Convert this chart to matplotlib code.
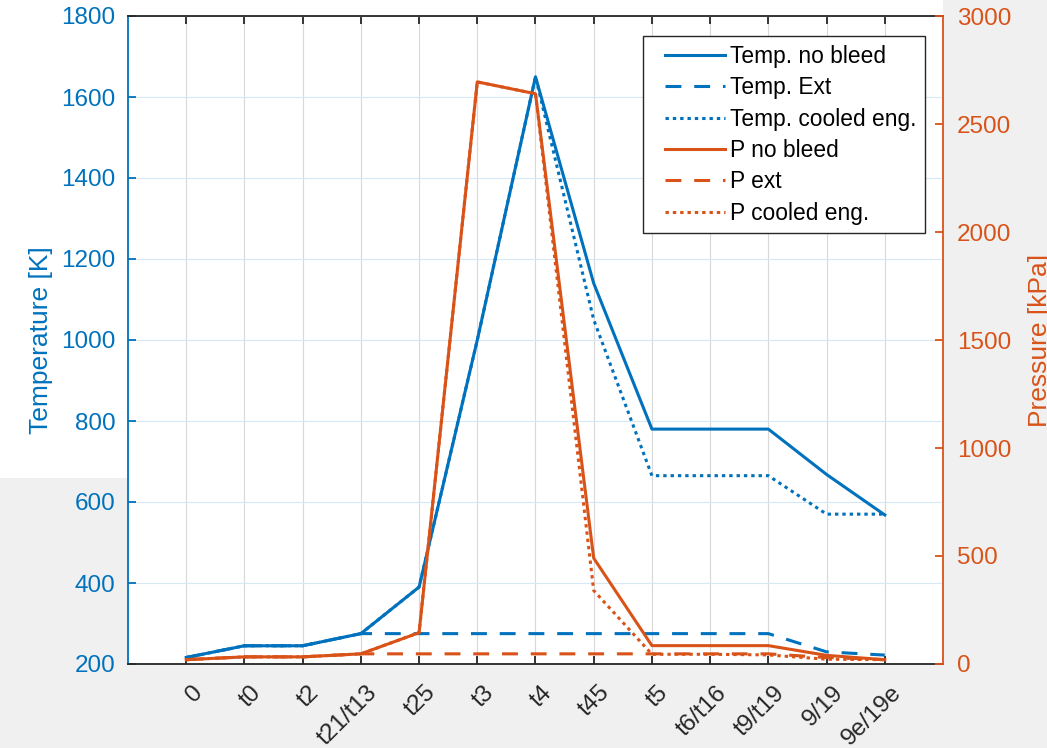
import matplotlib
matplotlib.use("Agg")
import matplotlib.pyplot as plt
from matplotlib.patches import Rectangle
import matplotlib.transforms as mtransforms

stations = ['0', 't0', 't2', 't21/t13', 't25', 't3', 't4', 't45', 't5',
            't6/t16', 't9/t19', '9/19', '9e/19e']
T_nobleed = [216, 245, 245, 275, 390, 1000, 1650, 1140, 780, 780, 780, 668, 568]
T_ext = [216, 245, 245, 275, 275, 275, 275, 275, 275, 275, 275, 230, 222]
T_cooled = [216, 245, 245, 275, 390, 1000, 1650, 1050, 665, 665, 665, 570, 570]
P_nobleed = [20, 33, 33, 47, 145, 2695, 2640, 490, 85, 85, 85, 40, 20]
P_ext = [20, 33, 33, 47, 47, 47, 47, 47, 47, 47, 47, 30, 20]
P_cooled = [20, 33, 33, 47, 145, 2695, 2640, 340, 45, 45, 42, 22, 20]

T_ticks = [200, 400, 600, 800, 1000, 1200, 1400, 1600, 1800]
P_ticks = [0, 500, 1000, 1500, 2000, 2500, 3000]

BLUE = '#0072BD'
ORANGE = '#D95319'
DARK = '#262626'

plt.rcParams['font.family'] = ['Liberation Sans', 'DejaVu Sans']

W, H = 1047, 748
fig = plt.figure(figsize=(W / 100, H / 100), dpi=100, facecolor='#f0f0f0')
fig.patches.append(Rectangle((0, (748 - 478) / H), 943 / W, 478 / H,
                             transform=fig.transFigure, facecolor='white',
                             edgecolor='none', zorder=-10))

ax1 = fig.add_axes([128 / W, (748 - 664) / H, (943 - 128) / W, (664 - 16) / H])
ax1.set_facecolor('white')
ax2 = ax1.twinx()

x = list(range(1, len(stations) + 1))
lw = 2.2
dash = (0, (5.2, 4.2))
dot = (0, (1.1, 1.3))

l1, = ax1.plot(x, T_nobleed, color=BLUE, lw=lw, ls='-', label='Temp. no bleed')
l2, = ax1.plot(x, T_ext, color=BLUE, lw=lw, ls=dash, label='Temp. Ext')
l3, = ax1.plot(x, T_cooled, color=BLUE, lw=lw, ls=dot, label='Temp. cooled eng.')
l4, = ax2.plot(x, P_nobleed, color=ORANGE, lw=lw, ls='-', label='P no bleed')
l5, = ax2.plot(x, P_ext, color=ORANGE, lw=lw, ls=dash, label='P ext')
l6, = ax2.plot(x, P_cooled, color=ORANGE, lw=lw, ls=dot, label='P cooled eng.')

ax1.set_xlim(0, 14)
ax1.set_ylim(200, 1800)
ax2.set_ylim(0, 3000)
ax1.set_xticks(x)
ax1.set_xticklabels(stations)
ax1.set_yticks(T_ticks)
ax2.set_yticks(P_ticks)

fs = 17.5
ax1.tick_params(axis='x', direction='in', length=6, width=1.3, top=True,
                colors=DARK, labelsize=fs, pad=6)
ax1.tick_params(axis='y', direction='in', length=6, width=1.3, colors=BLUE,
                labelsize=fs, pad=9)
ax2.tick_params(axis='y', direction='in', length=6, width=1.3, colors=ORANGE,
                labelsize=fs, pad=10)
ax2.tick_params(axis='x', which='both', bottom=False, top=False,
                labelbottom=False)

for lab in ax1.get_xticklabels():
    lab.set_rotation(45)
    lab.set_ha('right')
    lab.set_va('center')
    lab.set_rotation_mode('anchor')
    lab.set_transform(lab.get_transform() +
                      mtransforms.ScaledTranslation(13 / 100, -17 / 100,
                                                    fig.dpi_scale_trans))

for ax in (ax1, ax2):
    for s in ax.spines.values():
        s.set_linewidth(1.3)
ax1.spines['left'].set_color(BLUE)
ax1.spines['top'].set_color(DARK)
ax1.spines['bottom'].set_color(DARK)
ax1.spines['right'].set_visible(False)
ax2.spines['right'].set_color(ORANGE)
ax2.spines['left'].set_visible(False)
ax2.spines['top'].set_visible(False)
ax2.spines['bottom'].set_visible(False)

ax1.set_axisbelow(True)
ax1.xaxis.grid(True, color='#d8d8d8', lw=0.8)
ax1.yaxis.grid(True, color='#d6e8f4', lw=0.8)

ax1.set_ylabel('Temperature [K]', color=BLUE, fontsize=19)
ax1.yaxis.set_label_coords((53 - 128) / 815, 0.5)
ax2.set_ylabel('Pressure [kPa]', color=ORANGE, fontsize=19)
ax2.yaxis.set_label_coords((1028 - 128) / 815, 0.5)

leg_fs = 16.4
leg = ax2.legend(handles=[l1, l2, l3, l4, l5, l6], loc='upper right',
                 bbox_to_anchor=((925 - 128) / 815, (664 - 36) / 648),
                 borderaxespad=0, fancybox=False, framealpha=1,
                 edgecolor=DARK, fontsize=leg_fs, handlelength=3.2,
                 handletextpad=0.22, labelspacing=0.37, borderpad=0.38)
leg.get_frame().set_linewidth(1.0)
for t in leg.get_texts():
    t.set_color('black')
# trim the left part of each legend sample line (MATLAB-like inset)
for ln in leg.get_lines():
    xd = list(ln.get_xdata())
    if len(xd) >= 2:
        ln.set_xdata([xd[0] + 9.5] + xd[1:])

fig.savefig('out.png', dpi=100, facecolor=fig.get_facecolor())
